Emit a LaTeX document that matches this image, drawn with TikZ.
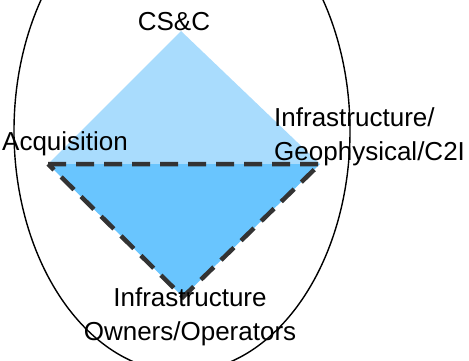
\documentclass[tikz,border=0pt]{standalone}
\usepackage{fontspec}
\setmainfont{Liberation Sans}
\definecolor{upperblue}{HTML}{A9DCFD}
\definecolor{lowerblue}{HTML}{69C5FE}
\definecolor{dashgray}{HTML}{333333}
\begin{document}
\begin{tikzpicture}
    [%
        x=1pt,y=-1pt,%
        upper half/.style={%
            fill=upperblue%
        },%
        lower half/.style={%
            fill=lowerblue%
        },%
        lower outline/.style={%
            draw=dashgray,%
            line width=4.5pt,%
            line join=miter,%
            dash pattern=on 18pt off 10pt%
        },%
        scope ring/.style={%
            draw,%
            line width=1.4pt%
        },%
        corner label/.style={%
            inner sep=0pt,%
            font=\fontsize{26}{34}\selectfont%
        }%
    ]%
%
    \useasboundingbox (0,0) rectangle (469,361);
    % corners of the diamond
    \coordinate (csc) at (181,31);
    \coordinate (acq) at (48,164);
    \coordinate (geo) at (320,164);
    \coordinate (own) at (183,297);
    % the two halves
    \path[upper half] (acq) -- (csc) -- (geo) -- cycle;
    \path[lower half] (acq) -- (geo) -- (own) -- cycle;
    \draw[lower outline] (acq) -- (geo) -- (own) -- cycle;
    % the ring round it
    \begin{scope}
        \clip (0,0) rectangle (469,361);
        \draw[scope ring] (182,131) ellipse [x radius=168, y radius=241];
    \end{scope}
    % labels of the corners (base = last line)
    \node[corner label,anchor=base] (csc-label) at (174,31) {CS\&C};
    \node[corner label,anchor=base west] (acq-label) at (2,150) {Acquisition};
    \node[corner label,anchor=base west,align=left] (geo-label) at (274,160)
        {Infrastructure/\\Geophysical/C2I};
    \node[corner label,anchor=base,align=center] (own-label) at (190,340)
        {Infrastructure\\Owners/Operators};
\end{tikzpicture}
\end{document}
